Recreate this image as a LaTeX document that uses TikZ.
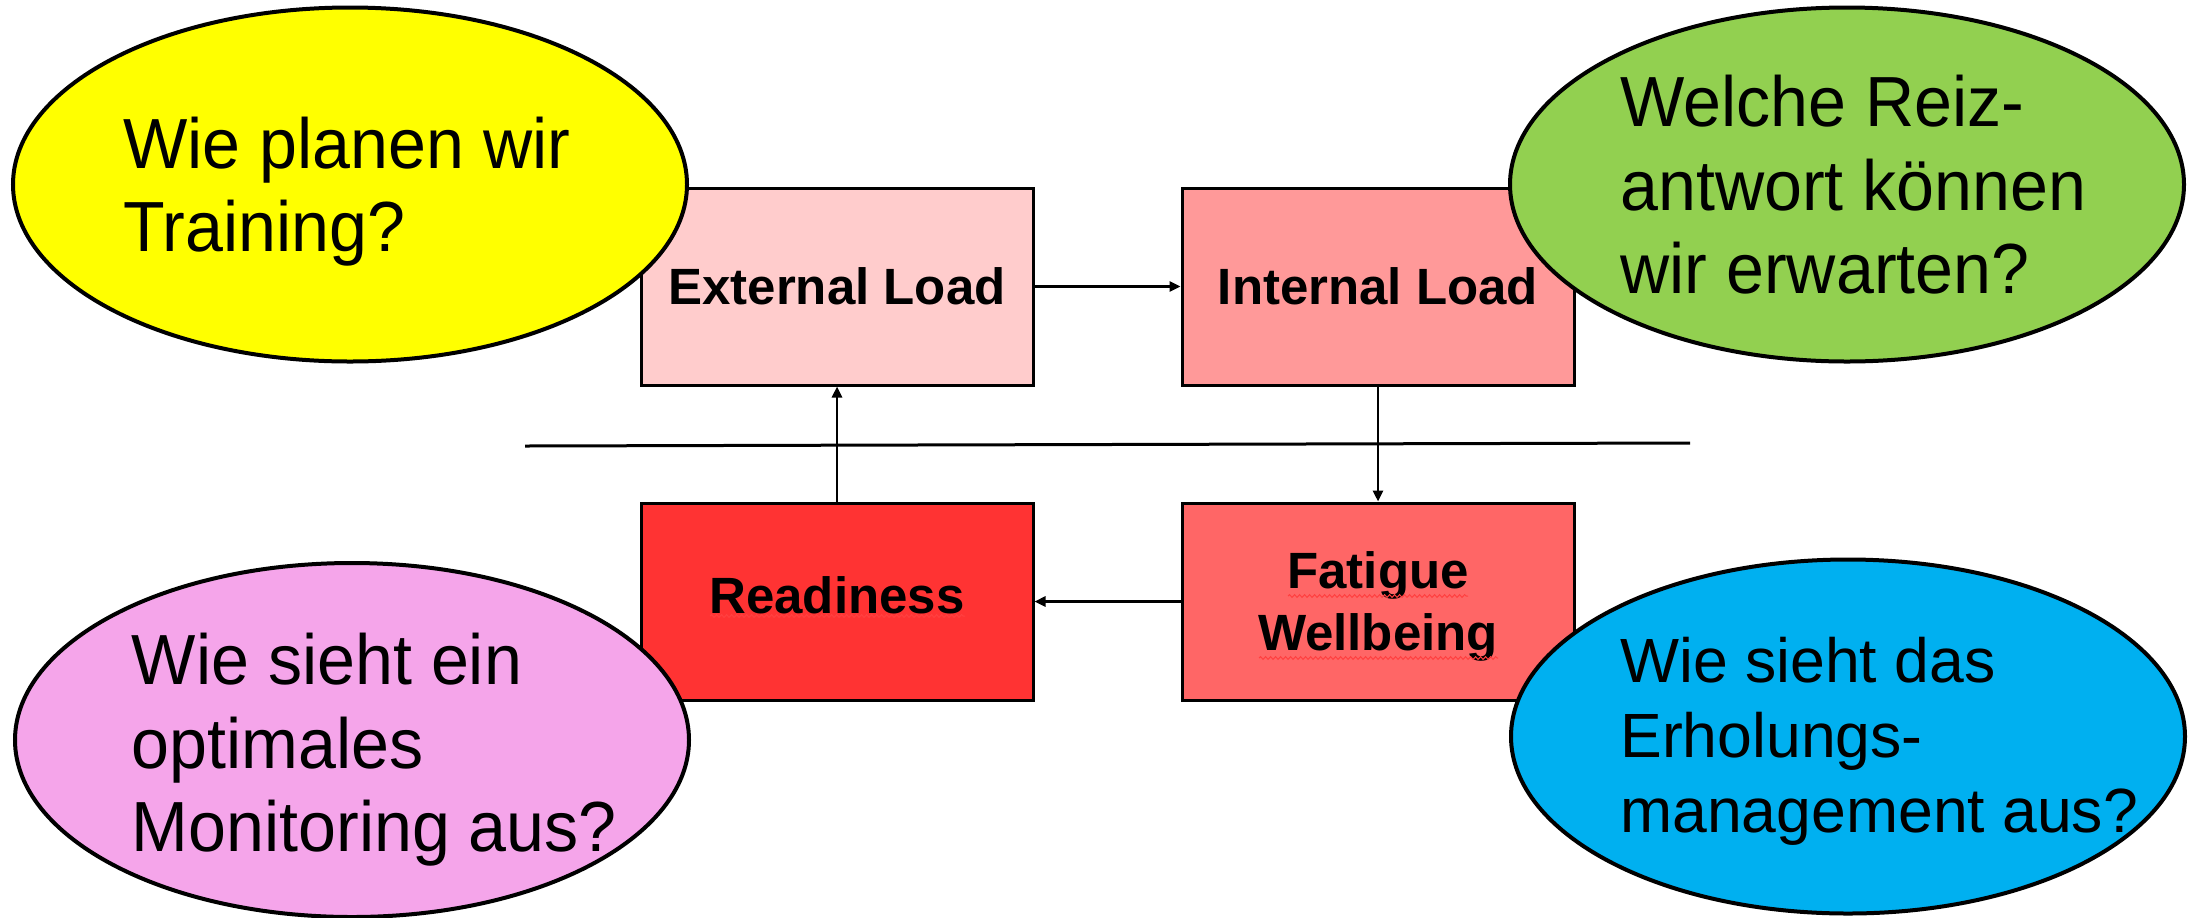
\documentclass[tikz,border=0pt]{standalone}
\usepackage{fontspec}
\setmainfont{Liberation Sans}
\newfontfamily\bubblefont[FakeStretch=0.96]{Liberation Sans}
\usetikzlibrary{arrows.meta,shapes.geometric,decorations.pathmorphing}
\definecolor{cyellow}{HTML}{FFFF00}
\definecolor{cgreen}{HTML}{92D050}
\definecolor{cpink}{HTML}{F5A5EA}
\definecolor{cblue}{HTML}{00B0F0}
\definecolor{cext}{HTML}{FFCCCC}
\definecolor{cint}{HTML}{FF9999}
\definecolor{cready}{HTML}{FF3333}
\definecolor{cfat}{HTML}{FF6666}
\tikzset{
  loadbox/.style={draw=black, line width=1.5pt, rectangle, minimum width=196pt, minimum height=98.5pt, inner sep=0pt,
    font={\bfseries\fontsize{25.5}{31}\selectfont}, align=center},
  bubble/.style={draw=black, line width=2pt, ellipse, minimum width=337pt, minimum height=177pt, inner sep=0pt},
  bubbletext/.style={anchor=north west, inner sep=0pt, align=left, font={\bubblefont\fontsize{35.5}{41.65}\selectfont}},
  flow/.style={line width=1.3pt, -{Triangle[length=5.5pt,width=5pt]}},
  squiggle/.style={draw=red!75, line width=0.5pt, decorate, decoration={snake, amplitude=0.7pt, segment length=2.5pt}}
}
\begin{document}
\begin{tikzpicture}[x=0.5pt,y=-0.5pt]
\useasboundingbox (0,0) rectangle (2195,917);
% boxes
\node[loadbox, fill=cext]   (ext)  at (837,286.5)  {External Load};
\node[loadbox, fill=cint]   (int)  at (1378,286.5) {Internal Load};
\node[loadbox, fill=cready, text depth=6.75pt] (rdy)  at (837,601.5)  {Readiness};
\node[loadbox, fill=cfat, text depth=-4.25pt]  (fat)  at (1378,601.5) {Fatigue\\Wellbeing};
% spell-check underlines
\draw[squiggle] (710,616) -- (965,616);
\draw[squiggle] (1288,596) -- (1468,596);
\draw[squiggle] (1259,658) -- (1498,658);
% separator
\coordinate (hl1) at (525,446);
\coordinate (hl2) at (1690,443);
\draw[line width=1.5pt] (hl1) -- (hl2);
% connectors
\draw[flow] (ext.east) -- (int.west);
\draw[flow] (int.south) -- (fat.north);
\draw[flow] (fat.west) -- (rdy.east);
\draw[flow] (rdy.north) -- (ext.south);
% bubbles
\node[bubble, fill=cyellow] (q1) at (350,184.5) {};
\node[bubble, fill=cgreen]  (q2) at (1847,184.5) {};
\node[bubble, fill=cpink]   (q3) at (352,740) {};
\node[bubble, fill=cblue]   (q4) at (1848,736.5) {};
\node[bubbletext] (t1) at (123,116.6) {Wie planen wir\\Training?};
\node[bubbletext] (t2) at (1620,75) {Welche Reiz-\\antwort können\\wir erwarten?};
\node[bubbletext] (t3) at (131.5,633) {Wie sieht ein\\optimales\\Monitoring aus?};
\node[bubbletext, font={\fontsize{31.25}{37.5}\selectfont}] (t4) at (1620,636.7) {Wie sieht das\\Erholungs-\\management aus?};
\end{tikzpicture}
\end{document}
